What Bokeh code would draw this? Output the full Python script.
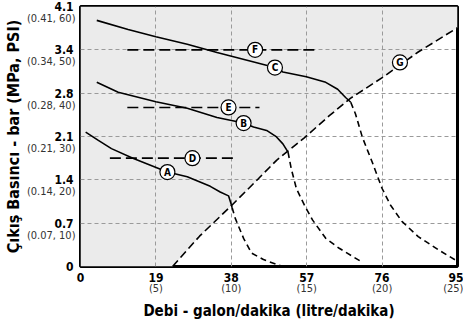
from bokeh.plotting import figure
from bokeh.models import Range1d, FixedTicker, LinearAxis, Title
from bokeh.embed import file_html
from bokeh.resources import INLINE
from bokeh.core.properties import value

FONT = "DejaVu Sans Condensed, Roboto, sans-serif"

# ---- ticks (x: litres/min, y: PSI) ----
x_ticks = [0, 19, 38, 57, 76, 95]
x_tick_labels = ["0", "19", "38", "57", "76", "95"]
x_tick_sub = ["", "(5)", "(10)", "(15)", "(20)", "(25)"]
y_ticks = [0, 10, 20, 30, 40, 50, 60]
y_tick_labels = ["0", "0.7", "1.4", "2.1", "2.8", "3.4", "4.1"]
y_tick_sub = ["", "(0.07, 10)", "(0.14, 20)", "(0.21, 30)", "(0.28, 40)", "(0.34, 50)", "(0.41, 60)"]

# ---- curves ----
a_x = [1.3, 4.5, 7.8, 13.2, 21.9, 26.9, 32.7, 35.2, 37.3, 37.9, 38.2]
a_y = [31.0, 29.1, 27.2, 25.0, 21.8, 20.7, 18.5, 17.2, 16.3, 14.6, 13.6]
a_dash_x = [38.2, 39.0, 41.1, 43.1, 46.1, 50.6]
a_dash_y = [13.6, 11.1, 6.5, 3.1, 1.6, 0.1]

b_x = [4.1, 9.5, 19.0, 26.9, 34.4, 41.1, 43.6, 46.9, 49.4, 51.0, 52.3]
b_y = [42.5, 40.2, 38.0, 36.5, 34.4, 33.1, 32.2, 31.4, 29.9, 28.3, 26.4]
b_dash_x = [52.3, 53.1, 54.4, 56.4, 58.5, 61.8, 65.2, 70.6]
b_dash_y = [26.4, 22.6, 18.0, 14.2, 10.7, 6.5, 4.2, 1.2]

c_x = [4.1, 12.0, 19.0, 26.9, 34.4, 42.7, 49.0, 51.0, 56.9, 61.8, 64.8, 66.8, 68.1]
c_y = [56.8, 54.7, 53.0, 51.3, 49.4, 47.4, 45.9, 44.9, 43.8, 42.5, 40.9, 39.0, 37.9]
c_dash_x = [68.1, 69.3, 71.0, 73.5, 76.0, 78.1, 81.0, 85.1, 90.1, 95.0]
c_dash_y = [37.9, 35.2, 29.9, 24.1, 18.0, 14.2, 10.4, 6.9, 3.9, 1.2]

d_x = [7.4, 39.0]
d_y = [25.0, 25.0]
e_x = [11.8, 45.1]
e_y = [36.7, 36.7]
f_x = [11.8, 59.8]
f_y = [50.0, 50.0]

g_x = [23.2, 30.0, 38.2, 44.0, 49.4, 56.4, 62.7, 68.0, 76.4, 85.1, 95.0]
g_y = [0.0, 7.0, 14.2, 19.5, 24.5, 29.7, 34.8, 38.8, 43.8, 49.5, 55.1]

# ---- curve tags ----
tag_text = ["A", "B", "C", "D", "E", "F", "G"]
tag_x = [21.9, 41.1, 49.0, 28.2, 37.3, 44.0, 80.5]
tag_y = [21.8, 33.1, 45.9, 25.0, 36.7, 50.0, 47.1]

x_title = "Debi - galon/dakika (litre/dakika)"
y_title = "Çıkış Basıncı - bar (MPa, PSI)"

p = figure(width=463, height=321, output_backend="svg", toolbar_location=None,
           x_range=Range1d(0, 95), y_range=Range1d(0, 60),
           min_border_left=74, min_border_right=6, min_border_top=6, min_border_bottom=40)
p.background_fill_color = "white"
p.border_fill_color = "white"
p.outline_line_color = "black"
p.outline_line_width = 3

# range used only to set the unit sub-labels ~12px below their main tick labels
p.extra_y_ranges = {"sub": Range1d(2.8, 62.8)}

# shaded operating region (above/left of G)
shade_x = [0] + g_x + [95, 0]
shade_y = [0] + g_y + [60, 60]
shade = p.patch(shade_x, shade_y, fill_color="#ebebeb", line_color=None)
shade.level = "image"


def style_axis(ax, bold=True, size="12px", color="black"):
    ax.axis_line_color = None
    ax.major_tick_line_color = None
    ax.minor_tick_line_color = None
    ax.major_tick_out = 0
    ax.major_tick_in = 0
    ax.major_label_text_font = FONT
    ax.major_label_text_font_style = "bold" if bold else "normal"
    ax.major_label_text_font_size = size
    ax.major_label_text_color = color


xa = p.xaxis[0]
ya = p.yaxis[0]
style_axis(xa)
style_axis(ya)
xa.ticker = FixedTicker(ticks=x_ticks)
ya.ticker = FixedTicker(ticks=y_ticks)
xa.major_label_overrides = dict(zip(x_ticks, x_tick_labels))
ya.major_label_overrides = dict(zip(y_ticks, y_tick_labels))
xa.major_label_standoff = 6
ya.major_label_standoff = 7

# secondary (unit) labels
xa2 = LinearAxis(ticker=FixedTicker(ticks=x_ticks[1:]),
                 major_label_overrides=dict(zip(x_ticks[1:], x_tick_sub[1:])))
style_axis(xa2, bold=False, size="11px", color="#333333")
xa2.major_label_standoff = -3
p.add_layout(xa2, "below")

ya2 = LinearAxis(y_range_name="sub", ticker=FixedTicker(ticks=y_ticks[1:]),
                 major_label_overrides=dict(zip(y_ticks[1:], y_tick_sub[1:])))
style_axis(ya2, bold=False, size="11px", color="#333333")
ya2.major_label_standoff = -24
p.add_layout(ya2, "left")

# axis titles (as titles, so they can be nudged like the original)
p.add_layout(Title(text=x_title, align="center", offset=15, standoff=4,
                   text_font=FONT, text_font_style="bold", text_font_size="15px",
                   text_color="black"), "below")
p.add_layout(Title(text=y_title, align="center", offset=-13, standoff=2,
                   text_font=FONT, text_font_style="bold", text_font_size="16px",
                   text_color="black"), "left")

for g in (p.xgrid, p.ygrid):
    g.grid_line_color = "#9a9a9a"
    g.grid_line_dash = "4 3"
    g.grid_line_width = 1

solid = dict(line_color="black", line_width=1.6)
dashed = dict(line_color="black", line_width=1.6, line_dash="6 4")
long_dash = dict(line_color="black", line_width=1.6, line_dash="11 5")

p.line(a_x, a_y, **solid)
p.line(a_dash_x, a_dash_y, **dashed)
p.line(b_x, b_y, **solid)
p.line(b_dash_x, b_dash_y, **dashed)
p.line(c_x, c_y, **solid)
p.line(c_dash_x, c_dash_y, **dashed)
p.line(d_x, d_y, **long_dash)
p.line(e_x, e_y, **long_dash)
p.line(f_x, f_y, **long_dash)
p.line(g_x, g_y, line_color="black", line_width=1.6, line_dash="8 4")

p.scatter(tag_x, tag_y, marker="circle", size=15, fill_color="white", line_color="black", line_width=1.2)
p.text(tag_x, tag_y, text=tag_text, text_align="center", text_baseline="middle",
       text_font=value(FONT), text_font_style="bold", text_font_size="10px", text_color="black")

open("out.html", "w").write(file_html(p, INLINE))
